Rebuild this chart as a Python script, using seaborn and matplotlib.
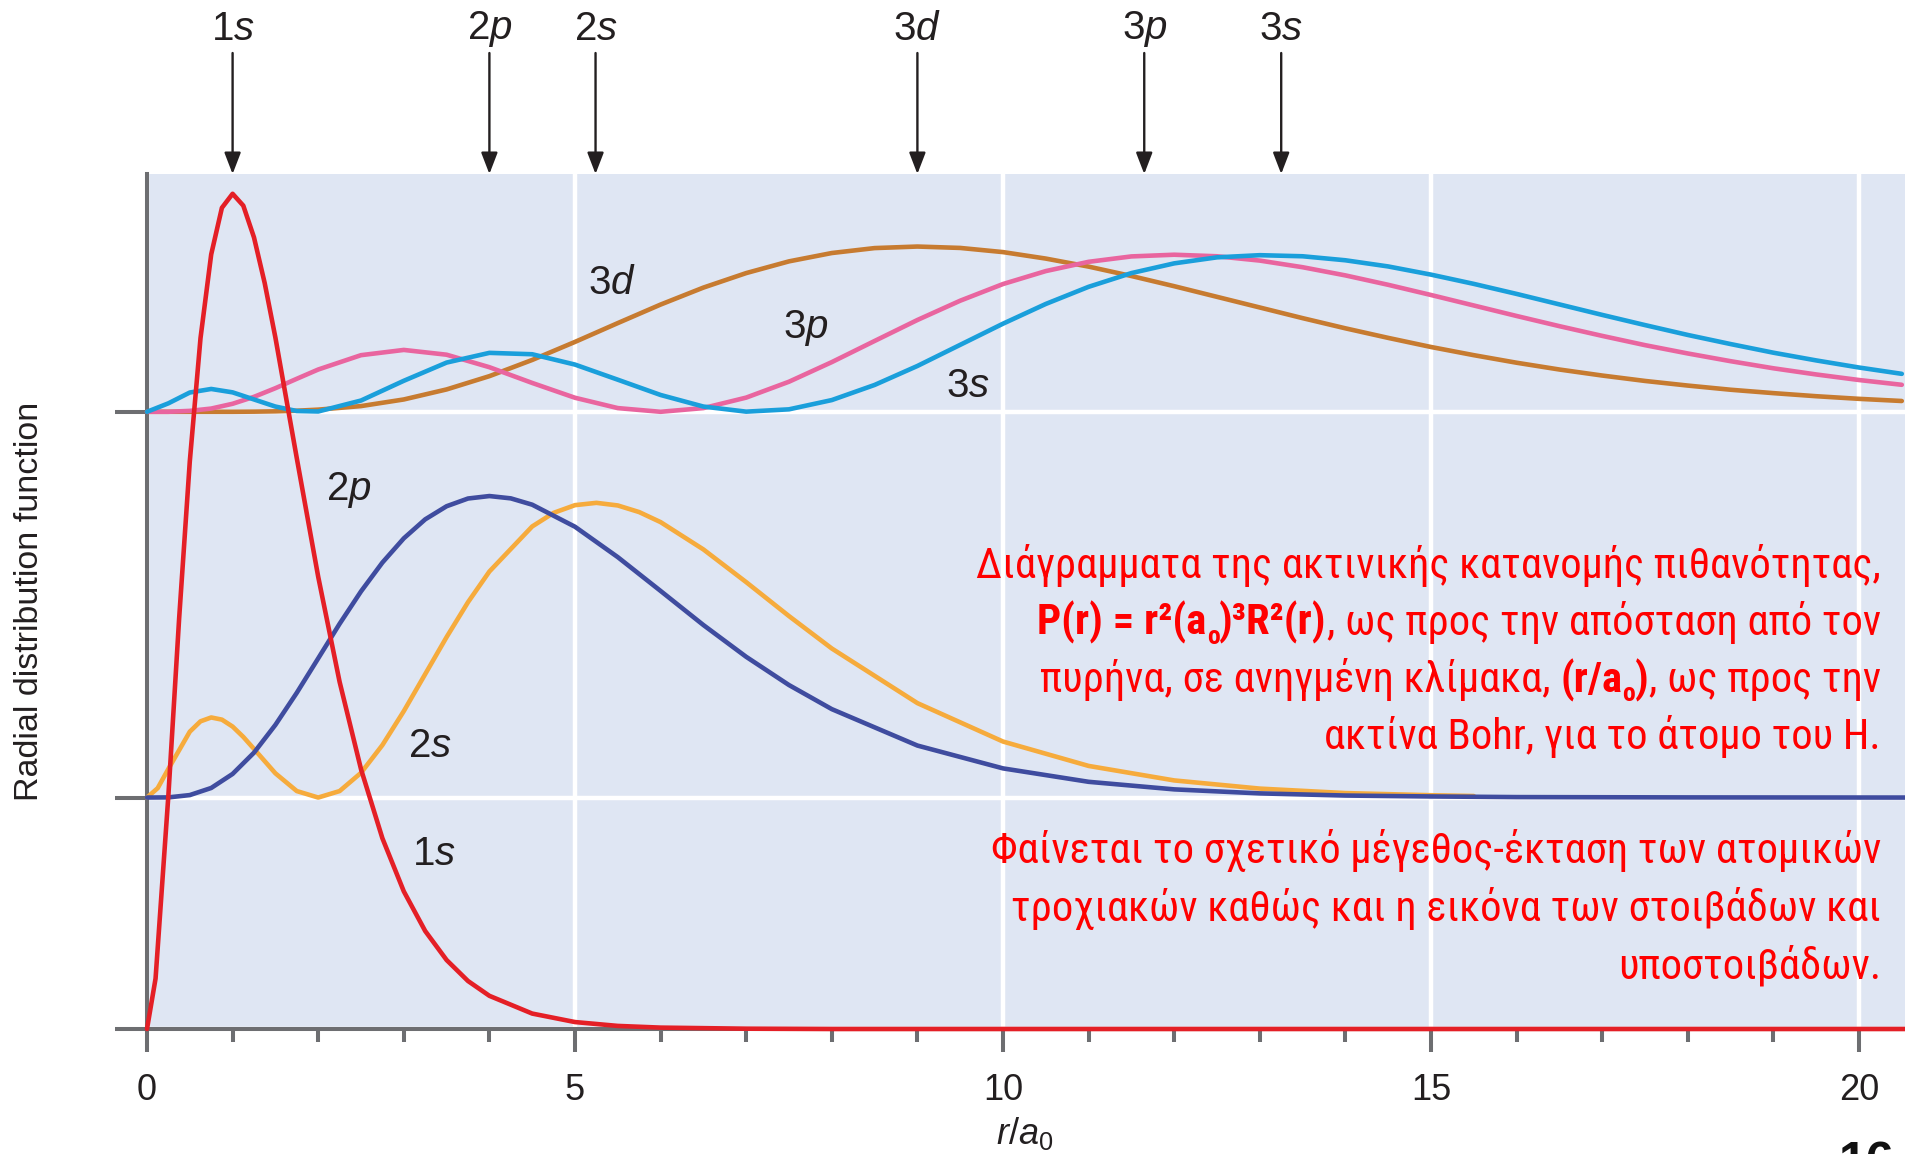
import numpy as np
import matplotlib
matplotlib.use("Agg")
import matplotlib.pyplot as plt
import seaborn as sns
from matplotlib import font_manager as fm
from matplotlib.ft2font import FT2Font

# ---------------- data ----------------
r_1s = [0, 0.1, 0.25, 0.375, 0.5, 0.625, 0.75, 0.875, 1.0, 1.125, 1.25, 1.375, 1.5, 1.75,
        2.0, 2.25, 2.5, 2.75, 3.0, 3.25, 3.5, 3.75, 4.0, 4.5, 5.0, 5.5, 6.0, 7.0, 8.0, 10.0,
        15.0, 20.6]
p_1s = [0, 0.0327, 0.1516, 0.2657, 0.3679, 0.4477, 0.5020, 0.5322, 0.5413, 0.5336, 0.5130,
        0.4834, 0.4481, 0.3699, 0.2931, 0.2250, 0.1684, 0.1236, 0.0892, 0.0635, 0.0447,
        0.0311, 0.0215, 0.0100, 0.0045, 0.0020, 0.0009, 0.0002, 0.0, 0.0, 0.0, 0.0]

r_2s = [0, 0.125, 0.25, 0.5, 0.625, 0.75, 0.875, 1.0, 1.125, 1.25, 1.5, 1.75, 2.0, 2.25, 2.5,
        2.75, 3.0, 3.25, 3.5, 3.75, 4.0, 4.5, 4.75, 5.0, 5.25, 5.5, 5.75, 6.0, 6.5, 7.0, 7.5,
        8.0, 9.0, 10.0, 11.0, 12.0, 13.0, 14.0, 15.0, 15.5]
p_2s = [0, 0.0061, 0.0186, 0.0427, 0.0494, 0.0519, 0.0505, 0.0460, 0.0393, 0.0315, 0.0157,
        0.0042, 0.0, 0.0042, 0.0160, 0.0340, 0.0560, 0.0800, 0.1040, 0.1266, 0.1465, 0.1757,
        0.1845, 0.1895, 0.1910, 0.1893, 0.1850, 0.1785, 0.1608, 0.1396, 0.1176, 0.0966,
        0.0612, 0.0363, 0.0205, 0.0111, 0.0058, 0.0029, 0.0015, 0.0010]

r_2p = [0, 0.25, 0.5, 0.75, 1.0, 1.25, 1.5, 1.75, 2.0, 2.25, 2.5, 2.75, 3.0, 3.25, 3.5, 3.75,
        4.0, 4.25, 4.5, 5.0, 5.5, 6.0, 6.5, 7.0, 7.5, 8.0, 9.0, 10.0, 11.0, 12.0, 13.0, 14.0,
        15.0, 16.0, 18.0, 20.6]
p_2p = [0, 0.0001, 0.0016, 0.0062, 0.0153, 0.0291, 0.0471, 0.0679, 0.0902, 0.1126, 0.1336,
        0.1523, 0.1680, 0.1803, 0.1888, 0.1938, 0.1954, 0.1939, 0.1898, 0.1755, 0.1558,
        0.1339, 0.1118, 0.0912, 0.0729, 0.0573, 0.0337, 0.0189, 0.0102, 0.0053, 0.0027,
        0.0013, 0.0007, 0.0003, 0.0001, 0.0]

r_n3 = [0, 0.25, 0.5, 0.75, 1.0, 1.25, 1.5, 1.75, 2.0, 2.5, 3.0, 3.5, 4.0, 4.5, 5.0, 5.5,
        6.0, 6.5, 7.0, 7.5, 8.0, 8.5, 9.0, 9.5, 10.0, 10.5, 11.0, 11.5, 12.0, 12.5, 13.0,
        13.5, 14.0, 14.5, 15.0, 15.5, 16.0, 16.5, 17.0, 17.5, 18.0, 18.5, 19.0, 19.5, 20.0,
        20.5]
p_3s = [0, 0.0055, 0.0125, 0.0148, 0.0126, 0.0080, 0.0034, 0.0005, 0.0002, 0.0073, 0.0201,
        0.0319, 0.0382, 0.0373, 0.0306, 0.0208, 0.0109, 0.0034, 0.0001, 0.0016, 0.0076,
        0.0174, 0.0297, 0.0434, 0.0571, 0.0699, 0.0810, 0.0899, 0.0962, 0.1001, 0.1015,
        0.1008, 0.0982, 0.0942, 0.0889, 0.0829, 0.0764, 0.0696, 0.0628, 0.0562, 0.0498,
        0.0439, 0.0383, 0.0333, 0.0287, 0.0246]
p_3p = [0, 0.0000, 0.0006, 0.0021, 0.0052, 0.0097, 0.0153, 0.0214, 0.0274, 0.0367, 0.0401,
        0.0370, 0.0289, 0.0187, 0.0091, 0.0024, 0.0, 0.0024, 0.0092, 0.0195, 0.0322, 0.0459,
        0.0595, 0.0720, 0.0828, 0.0912, 0.0972, 0.1007, 0.1018, 0.1008, 0.0980, 0.0937,
        0.0884, 0.0823, 0.0757, 0.0689, 0.0621, 0.0555, 0.0492, 0.0432, 0.0378, 0.0328,
        0.0282, 0.0242, 0.0206, 0.0175]
p_3d = [0, 0.0, 0.0, 0.0, 0.0, 0.0001, 0.0003, 0.0007, 0.0014, 0.0037, 0.0080, 0.0145,
        0.0231, 0.0336, 0.0453, 0.0575, 0.0695, 0.0805, 0.0899, 0.0975, 0.1029, 0.1061,
        0.1071, 0.1062, 0.1035, 0.0993, 0.0941, 0.0880, 0.0814, 0.0745, 0.0676, 0.0607,
        0.0541, 0.0479, 0.0420, 0.0367, 0.0318, 0.0274, 0.0235, 0.0200, 0.0170, 0.0143,
        0.0121, 0.0101, 0.0084, 0.0070]

arrow_labels = ["1", "2", "2", "3", "3", "3"]
arrow_l = ["s", "p", "s", "d", "p", "s"]
arrow_r = [1.0, 4.0, 5.24, 9.0, 11.65, 13.25]

x_ticks = [0, 5, 10, 15, 20]
x_ticklabels = ["0", "5", "10", "15", "20"]

# ---------------- style ----------------
sns.set_style("white")
plt.rcParams["font.family"] = ["Liberation Sans", "DejaVu Sans"]
plt.rcParams["mathtext.fontset"] = "custom"
plt.rcParams["mathtext.rm"] = "Liberation Sans"
plt.rcParams["mathtext.it"] = "Liberation Sans:italic"
plt.rcParams["mathtext.bf"] = "Liberation Sans:bold"

GREY = "#6d6e71"
INK = "#231f20"
W, H = 1905, 1154
PX_PER_R = 85.6
PX_PER_P = 1543.0
AX_L, AX_R, AX_T, AX_B = 147, 1905, 174, 1029


# ---- find a narrow / condensed font with Greek glyphs, if installed ----
def _has_greek(path):
    try:
        f = FT2Font(path)
        return all(f.get_char_index(ord(c)) != 0 for c in "Δώςθ")
    except Exception:
        return False


def _is_narrow(fe):
    n = (fe.name + " " + str(fe.fname)).lower()
    if "narrow" in n or "condensed" in n:
        return True
    st = fe.stretch
    if isinstance(st, str):
        return st in ("condensed", "semi-condensed", "extra-condensed", "ultra-condensed")
    try:
        return int(st) < 500
    except Exception:
        return False


def _wt(fe):
    w = fe.weight
    if isinstance(w, str):
        return {"normal": 400, "regular": 400, "bold": 700, "book": 400}.get(w, 400)
    return int(w)


pref = ["liberation sans narrow", "arial narrow", "roboto condensed", "open sans condensed",
        "noto sans", "dejavu sans", "lato", "inter"]
cands = []
for fe in fm.fontManager.ttflist:
    if fe.style != "normal" or not _is_narrow(fe):
        continue
    fn = str(fe.fname).lower().replace("-", "").replace("_", "")
    if "extracondensed" in fn or "ultracondensed" in fn or "semicondensed" in fn:
        continue
    if not _has_greek(fe.fname):
        continue
    cands.append(fe)


def _rank(fe):
    nm = fe.name.lower()
    for i, p in enumerate(pref):
        if nm.startswith(p):
            return i
    return len(pref)


REG_PATH = BOLD_PATH = None
if cands:
    cands.sort(key=_rank)
    fam = cands[0].name
    same = [c for c in cands if c.name == fam]
    regs = sorted(same, key=lambda c: abs(_wt(c) - 400))
    bolds = sorted(same, key=lambda c: abs(_wt(c) - 700))
    REG_PATH = regs[0].fname
    BOLD_PATH = bolds[0].fname if abs(_wt(bolds[0]) - 700) <= 100 else None


def greek_fp(weight, size):
    if weight == "bold" and BOLD_PATH:
        return fm.FontProperties(fname=BOLD_PATH, size=size)
    if weight != "bold" and REG_PATH:
        return fm.FontProperties(fname=REG_PATH, size=size)
    return fm.FontProperties(family=["Liberation Sans", "DejaVu Sans"], weight=weight,
                             size=size)


# ---------------- figure ----------------
fig = plt.figure(figsize=(W / 100, H / 100), dpi=100)
ax = fig.add_axes([AX_L / W, (H - AX_B) / H, (AX_R - AX_L) / W, (AX_B - AX_T) / H])
ax.set_facecolor("#dfe6f3")

OFF1, OFF2, OFF3 = 0.0, 0.15, 0.40
curves = [
    (r_n3, p_3d, OFF3, "#c77b30"),
    (r_n3, p_3p, OFF3, "#e9659f"),
    (r_n3, p_3s, OFF3, "#1a9fdb"),
    (r_2s, p_2s, OFF2, "#f6ab3c"),
    (r_2p, p_2p, OFF2, "#3f4c9f"),
    (r_1s, p_1s, OFF1, "#e41f26"),
]
for i, (rr, pp, off, col) in enumerate(curves):
    sns.lineplot(x=np.asarray(rr), y=np.asarray(pp) + off, ax=ax, color=col,
                 linewidth=3.3, estimator=None, sort=False, zorder=3 + i * 0.1,
                 clip_on=False)

ax.set_xlim(0, (AX_R - AX_L) / PX_PER_R)
ax.set_ylim(0, (AX_B - AX_T) / PX_PER_P)

ax.set_xticks(x_ticks)
ax.set_xticklabels(x_ticklabels)
ax.set_xticks(range(0, 21), minor=True)
ax.set_yticks([OFF1, OFF2, OFF3])
ax.set_yticklabels([])
ax.tick_params(bottom=True, left=True, which="both")
ax.tick_params(axis="x", which="major", direction="out", length=16.5, width=2.9,
               color=GREY, pad=15, labelsize=26, labelcolor=INK)
ax.tick_params(axis="x", which="minor", direction="out", length=9.4, width=2.9, color=GREY)
ax.tick_params(axis="y", which="major", direction="out", length=23, width=2.9, color=GREY)
ax.set_xlabel("")
ax.set_ylabel("")
ax.grid(True, which="major", color="white", linewidth=3.2)
ax.set_axisbelow(True)
for s in ["top", "right"]:
    ax.spines[s].set_visible(False)
for s in ["left", "bottom"]:
    ax.spines[s].set_color(GREY)
    ax.spines[s].set_linewidth(2.9)

# top arrows and labels
for n, l, rv in zip(arrow_labels, arrow_l, arrow_r):
    ax.annotate("", xy=(rv, 1.0), xycoords=("data", "axes fraction"),
                xytext=(rv, 1.1415), textcoords=("data", "axes fraction"),
                arrowprops=dict(arrowstyle="-|>,head_length=1.3,head_width=0.5",
                                mutation_scale=10, lw=1.7, color=INK,
                                shrinkA=0, shrinkB=0),
                annotation_clip=False)
    ax.text(rv, 1.1696, n + r"$\mathit{" + l + "}$", transform=ax.get_xaxis_transform(),
            ha="center", va="center", fontsize=29, color=INK, clip_on=False)

# labels inside the plot
inner = [("3", "d", 5.43, 0.4835), ("3", "p", 7.70, 0.4543), ("3", "s", 9.59, 0.4167),
         ("2", "p", 2.36, 0.3493), ("2", "s", 3.30, 0.1834), ("1", "s", 3.35, 0.1134)]
for n, l, x, y in inner:
    ax.text(x, y, n + r"$\mathit{" + l + "}$", ha="center", va="center", fontsize=29,
            color=INK, zorder=6)

# axis titles
fig.text(30 / W, (H - 601) / H, "Radial distribution function", rotation=90,
         ha="center", va="center", fontsize=24.5, color=INK)
fig.text(1025 / W, (H - 1134) / H, r"$r/a_\mathrm{0}$", ha="center", va="center",
         fontsize=26, color=INK)

# page number (cut at bottom, as in the slide)
fig.text(1839 / W, (H - 1141) / H, "16", ha="left", va="top", fontsize=36,
         fontweight="bold", color="#111111")

# ---------------- red annotation text ----------------
renderer = fig.canvas.get_renderer()


def advance(s, size, weight):
    t1 = fig.text(0, 0, "|" + s + "|", fontproperties=greek_fp(weight, size))
    w1 = t1.get_window_extent(renderer).width
    t1.remove()
    t0 = fig.text(0, 0, "||", fontproperties=greek_fp(weight, size))
    w0 = t0.get_window_extent(renderer).width
    t0.remove()
    return w1 - w0


N, B = "normal", "bold"
para = [
    (578, [("Διάγραμματα της ακτινικής κατανομής πιθανότητας,", N, 1, 0)]),
    (635, [("P(r) = r²(a", B, 1, 0), ("o", B, 0.6, 0.2), (")³R²(r)", B, 1, 0),
           (", ως προς την απόσταση από τον", N, 1, 0)]),
    (692, [("πυρήνα, σε ανηγμένη κλίμακα, ", N, 1, 0), ("(r/a", B, 1, 0),
           ("o", B, 0.6, 0.2), (")", B, 1, 0), (", ως προς την", N, 1, 0)]),
    (749, [("ακτίνα Bohr, για το άτομο του H.", N, 1, 0)]),
    (863, [("Φαίνεται το σχετικό μέγεθος-έκταση των ατομικών", N, 1, 0)]),
    (921, [("τροχιακών καθώς και η εικόνα των στοιβάδων και", N, 1, 0)]),
    (979, [("υποστοιβάδων.", N, 1, 0)]),
]
RIGHT = 1881
LEFT1 = 972
base = 32.0
w_first = advance(para[0][1][0][0], base, N)
size = min(base * (RIGHT - LEFT1) / w_first, 40.0)

for yb, segs in para:
    widths = [advance(s, size * sc, wt) for s, wt, sc, dy in segs]
    x = RIGHT - sum(widths)
    for (s, wt, sc, dy), w in zip(segs, widths):
        fig.text(x / W, (H - yb - dy * size * 100 / 72) / H, s,
                 fontproperties=greek_fp(wt, size * sc), color="#ff0000",
                 ha="left", va="baseline", zorder=10)
        x += w

fig.savefig("out.png", dpi=100)
